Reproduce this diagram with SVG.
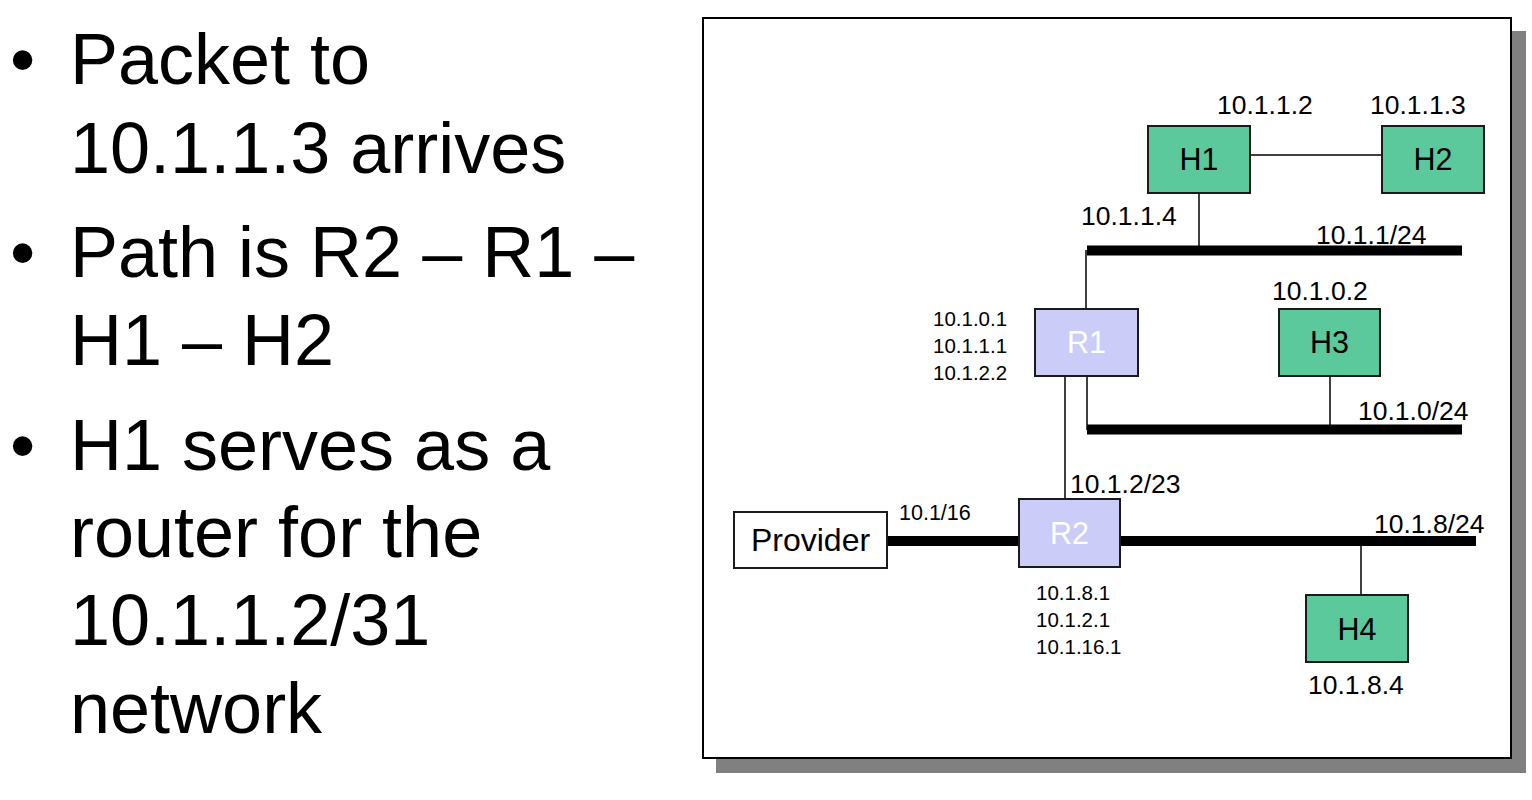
<svg xmlns="http://www.w3.org/2000/svg" width="1532" height="800" viewBox="0 0 1532 800">
<style>
text{font-family:"Liberation Sans",Arial,Helvetica,sans-serif;fill:#000}
.big{font-size:72px}
.lbl{font-size:26.5px}
.sm{font-size:20.5px}
.nl{font-size:30.5px;text-anchor:middle}
.wt{fill:#fff}
.host{fill:#5bc99b;stroke:#1a1a1a;stroke-width:2}
.rtr{fill:#ccccf9;stroke:#1a1a1a;stroke-width:2}
.prov{fill:#fff;stroke:#1a1a1a;stroke-width:2}
.thin{stroke:#000;stroke-width:1.5;fill:none}
.bus{stroke:#000;stroke-width:10;fill:none}
</style>
<rect width="1532" height="800" fill="#fff"/>
<g id="bullets">
<text class="big" x="10" y="84">•</text>
<text class="big" x="70" y="84">Packet to</text>
<text class="big" x="70" y="173">10.1.1.3 arrives</text>
<text class="big" x="10" y="277">•</text>
<text class="big" x="70" y="277">Path is R2 – R1 –</text>
<text class="big" x="70" y="365">H1 – H2</text>
<text class="big" x="10" y="470">•</text>
<text class="big" x="70" y="470">H1 serves as a</text>
<text class="big" x="70" y="557">router for the</text>
<text class="big" x="70" y="645">10.1.1.2/31</text>
<text class="big" x="70" y="733">network</text>
</g>
<g id="frame">
<rect x="716" y="31" width="810" height="742" fill="#808080"/>
<rect x="703" y="18" width="808" height="740" fill="#fff" stroke="#000" stroke-width="2"/>
</g>
<g id="connectors">
<line class="thin" x1="1250" y1="155" x2="1382" y2="155"/>
<line class="thin" x1="1199" y1="193" x2="1199" y2="246"/>
<line class="bus" x1="1087" y1="250.5" x2="1462" y2="250.5"/>
<line class="thin" x1="1086" y1="250" x2="1086" y2="309"/>
<line class="thin" x1="1330" y1="376" x2="1330" y2="425"/>
<line class="thin" x1="1087" y1="376" x2="1087" y2="430"/>
<line class="bus" x1="1087" y1="429.5" x2="1462" y2="429.5"/>
<line class="thin" x1="1065" y1="376" x2="1065" y2="499"/>
<line class="bus" x1="887" y1="541" x2="1019" y2="541"/>
<line class="bus" x1="1120" y1="541" x2="1476" y2="541"/>
<line class="thin" x1="1361" y1="546" x2="1361" y2="595"/>
</g>
<g id="H1"><rect class="host" x="1148" y="126" width="102" height="67"/><text class="nl" x="1199" y="170">H1</text></g>
<g id="H2"><rect class="host" x="1382" y="126" width="102" height="67"/><text class="nl" x="1433" y="170">H2</text></g>
<g id="R1"><rect class="rtr" x="1035" y="309" width="103" height="67"/><text class="nl wt" x="1086.5" y="353">R1</text></g>
<g id="H3"><rect class="host" x="1279" y="309" width="101" height="67"/><text class="nl" x="1329.5" y="353">H3</text></g>
<g id="R2"><rect class="rtr" x="1019" y="499" width="101" height="68"/><text class="nl wt" x="1069.5" y="544">R2</text></g>
<g id="Provider"><rect class="prov" x="734" y="512" width="153" height="56"/><text class="nl" x="810.5" y="551" style="font-size:32px">Provider</text></g>
<g id="H4"><rect class="host" x="1306" y="595" width="102" height="67"/><text class="nl" x="1357" y="640">H4</text></g>
<g id="labels">
<text class="lbl" x="1217" y="114">10.1.1.2</text>
<text class="lbl" x="1370" y="114">10.1.1.3</text>
<text class="lbl" x="1081" y="225">10.1.1.4</text>
<text class="lbl" x="1316" y="244">10.1.1/24</text>
<text class="lbl" x="1272" y="300">10.1.0.2</text>
<text class="lbl" x="1358" y="420">10.1.0/24</text>
<text class="lbl" x="1070" y="493">10.1.2/23</text>
<text class="lbl" x="1374" y="533">10.1.8/24</text>
<text class="lbl" x="1308" y="694">10.1.8.4</text>
<text class="sm" x="933" y="326">10.1.0.1</text>
<text class="sm" x="933" y="353">10.1.1.1</text>
<text class="sm" x="933" y="380">10.1.2.2</text>
<text class="sm" x="1036" y="600">10.1.8.1</text>
<text class="sm" x="1036" y="627">10.1.2.1</text>
<text class="sm" x="1036" y="654">10.1.16.1</text>
<text class="sm" x="899" y="520" style="font-size:21.5px">10.1/16</text>
</g>
</svg>
